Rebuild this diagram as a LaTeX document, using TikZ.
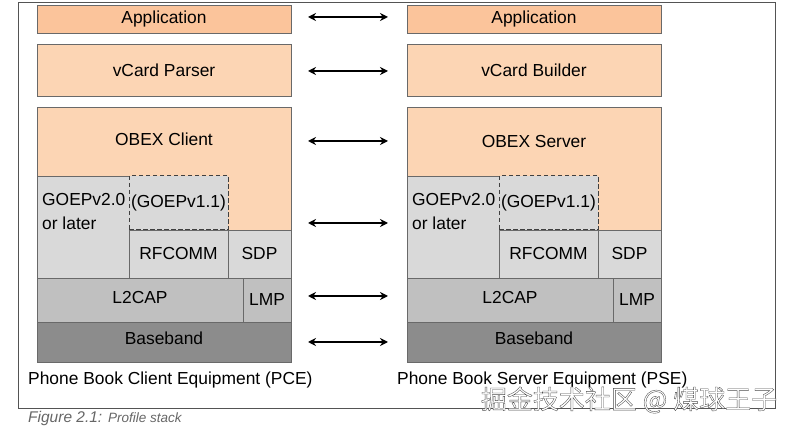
\documentclass[tikz,border=0pt]{standalone}
\usepackage{fontspec}
\setmainfont{Liberation Sans}
\newfontfamily\cjk{Noto Sans CJK SC}
\usetikzlibrary{arrows.meta}
\definecolor{appc}{RGB}{251,196,155}
\definecolor{peach}{RGB}{252,213,180}
\definecolor{lgray}{RGB}{217,217,217}
\definecolor{mgray}{RGB}{192,192,192}
\definecolor{dgray}{RGB}{140,140,140}
\definecolor{edge}{RGB}{105,105,105}
\tikzset{
  box/.style={draw=edge, line width=0.9pt, inner sep=0pt, font=\fontsize{17.4}{20}\selectfont},
  lbl/.style={inner sep=0pt, font=\fontsize{17.4}{20}\selectfont},
  dashbox/.style={box, draw=black!75, dash pattern=on 4.5pt off 2.5pt, line width=1pt},
  arr/.style={{Stealth[length=8pt,width=8pt]}-{Stealth[length=8pt,width=8pt]}, line width=1.6pt, black},
}
\begin{document}
\begin{tikzpicture}[x=1pt,y=-1pt]
\useasboundingbox (0,0) rectangle (785,430);
\node[draw=edge!80!black, line width=0.8pt, minimum width=757, minimum height=406, inner sep=0pt] (frame) at (396.5,205) {};
% ---------- left stack
\node[box, fill=appc, minimum width=254, minimum height=28] (appL) at (164,19) {Application};
\node[box, fill=peach, minimum width=254, minimum height=52] (vcL) at (164,70) {vCard Parser};
\node[box, fill=peach, minimum width=254, minimum height=123] (obL) at (164,168.5) {};
\node[lbl] (obLt) at (164,139) {OBEX Client};
\node[box, fill=lgray, minimum width=92, minimum height=102] (g2L) at (83,227) {};
\node[lbl, anchor=west, align=left] (g2Lt) at (42,212) {GOEPv2.0\\[4pt]or later};
\node[dashbox, fill=lgray, minimum width=99, minimum height=54] (g1L) at (178.5,203) {(GOEPv1.1)};
\node[box, fill=lgray, minimum width=99, minimum height=48] (rfL) at (178.5,254) {RFCOMM};
\node[box, fill=lgray, minimum width=63, minimum height=48] (sdpL) at (259.5,254) {SDP};
\node[box, fill=mgray, minimum width=206, minimum height=44] (l2L) at (140,300) {};
\node[lbl] (l2Lt) at (140,298) {L2CAP};
\node[box, fill=mgray, minimum width=48, minimum height=44] (lmpL) at (267,300) {LMP};
\node[box, fill=dgray, minimum width=254, minimum height=40] (bbL) at (164,342) {};
\node[lbl] (bbLt) at (164,338) {Baseband};
% ---------- right stack
\node[box, fill=appc, minimum width=254, minimum height=28] (appR) at (534,19) {Application};
\node[box, fill=peach, minimum width=254, minimum height=52] (vcR) at (534,70) {vCard Builder};
\node[box, fill=peach, minimum width=254, minimum height=123] (obR) at (534,168.5) {};
\node[lbl] (obRt) at (534,142) {OBEX Server};
\node[box, fill=lgray, minimum width=92, minimum height=102] (g2R) at (453,227) {};
\node[lbl, anchor=west, align=left] (g2Rt) at (412,212) {GOEPv2.0\\[4pt]or later};
\node[dashbox, fill=lgray, minimum width=99, minimum height=54] (g1R) at (548.5,203) {(GOEPv1.1)};
\node[box, fill=lgray, minimum width=99, minimum height=48] (rfR) at (548.5,254) {RFCOMM};
\node[box, fill=lgray, minimum width=63, minimum height=48] (sdpR) at (629.5,254) {SDP};
\node[box, fill=mgray, minimum width=206, minimum height=44] (l2R) at (510,300) {};
\node[lbl] (l2Rt) at (510,298) {L2CAP};
\node[box, fill=mgray, minimum width=48, minimum height=44] (lmpR) at (637,300) {LMP};
\node[box, fill=dgray, minimum width=254, minimum height=40] (bbR) at (534,342) {};
\node[lbl] (bbRt) at (534,338) {Baseband};
% ---------- arrows
\foreach \i/\y in {1/17,2/71,3/141,4/223,5/296,6/342}{
  \coordinate (aL\i) at (308,\y);
  \coordinate (aR\i) at (388,\y);
  \draw[arr] (aL\i) -- (aR\i);
}
% ---------- captions
\node[lbl, anchor=west] (capL) at (28,380) {Phone Book Client Equipment (PCE)};
\node[lbl, anchor=west] (capR) at (397,380) {Phone Book Server Equipment (PSE)};
\node[inner sep=0pt, anchor=west, text=black!60, font=\itshape] (fig) at (28,418)
  {\fontsize{15.5}{17}\selectfont Figure 2.1: \fontsize{13.5}{15}\selectfont Profile stack};
% ---------- watermark (white letters with a grey outline)
\node[inner sep=0pt, text=white, font=\cjk\fontsize{26}{28}\selectfont] (wm) at (629,400)
  {\special{pdf:literal direct 2 Tr 0.35 w 0.3 0.3 0.3 RG 1 1 1 rg}掘金技术社区 @ 煤球王子\special{pdf:literal direct 0 Tr}};
\end{tikzpicture}
\end{document}
